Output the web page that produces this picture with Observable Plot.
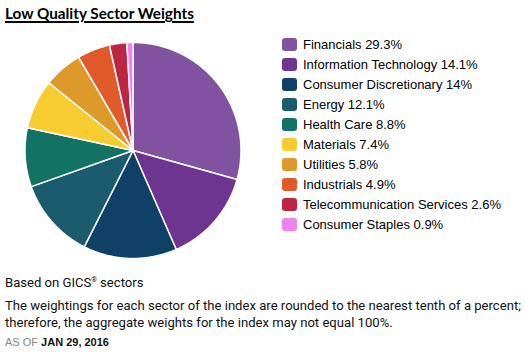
<!DOCTYPE html>
<html>
<head>
<meta charset="utf-8">
<script src="https://cdn.jsdelivr.net/npm/d3@7"></script>
<script src="https://cdn.jsdelivr.net/npm/@observablehq/plot@0.6"></script>
<style>
  html, body { margin: 0; padding: 0; background: #fff; }
  #wrap { position: relative; width: 525px; height: 355px; overflow: hidden; }
  #chart { position: absolute; left: 0; top: 0; }
  #title { position: absolute; left: 5px; top: 4px; font-family: Lato, sans-serif; font-weight: bold; font-size: 15.3px; text-decoration: underline; text-decoration-thickness: 2px; text-underline-offset: 2px; color: #000; white-space: nowrap; }
  #legend { position: absolute; left: 282px; top: 34px; font-family: "Liberation Sans", Arial, sans-serif; font-size: 13px; color: #000; }
  .row { height: 20px; display: flex; align-items: center; white-space: nowrap; }
  .sw { width: 15px; height: 13px; border-radius: 3px; margin-right: 6px; flex: none; }
  .foot { position: absolute; left: 5px; font-family: Roboto, sans-serif; font-size: 13.1px; color: #111; white-space: nowrap; }
</style>
</head>
<body>
<div id="wrap">
  <div id="chart"></div>
  <div id="title">Low Quality Sector Weights</div>
  <div id="legend"></div>
  <div class="foot" style="top:275px">Based on GICS<sup style="font-size:7px">®</sup> sectors</div>
  <div class="foot" style="top:297px; line-height:17px">The weightings for each sector of the index are rounded to the nearest tenth of a percent;<br>therefore, the aggregate weights for the index may not equal 100%.</div>
  <div class="foot" style="top:336px; font-family:'Liberation Sans',Arial,sans-serif; font-size:11px"><span style="color:#888">AS OF</span> <b>JAN 29, 2016</b></div>
</div>
<script>
const sectors = ["Financials", "Information Technology", "Consumer Discretionary", "Energy", "Health Care", "Materials", "Utilities", "Industrials", "Telecommunication Services", "Consumer Staples"];
const weights = [29.3, 14.1, 14, 12.1, 8.8, 7.4, 5.8, 4.9, 2.6, 0.9];
const colors = ["#8052A0", "#6E3590", "#0F4068", "#1A5C6E", "#127264", "#F7CC30", "#DD9A2A", "#E05A2A", "#BE2542", "#EE82EE"];

const R = 108;
const arcs = d3.pie().sort(null).value(d => d.w)(sectors.map((s, i) => ({s, w: weights[i]})));
const pts = [];
for (const a of arcs) {
  const n = Math.max(2, Math.ceil((a.endAngle - a.startAngle) / 0.01));
  pts.push({s: a.data.s, x: 0, y: 0});
  for (let k = 0; k <= n; k++) {
    const t = a.startAngle + (a.endAngle - a.startAngle) * k / n;
    pts.push({s: a.data.s, x: R * Math.sin(t), y: R * Math.cos(t)});
  }
  pts.push({s: a.data.s, x: 0, y: 0});
}

const plot = Plot.plot({
  width: 525, height: 355,
  margin: 0,
  x: {domain: [-132.5, 392.5], axis: null},
  y: {domain: [-205, 150], axis: null},
  color: {domain: sectors, range: colors},
  marks: [
    Plot.line(pts, {x: "x", y: "y", z: "s", fill: "s", stroke: "white", strokeWidth: 1.5, strokeLinejoin: "round", curve: "linear"})
  ]
});
document.getElementById("chart").appendChild(plot);

const leg = document.getElementById("legend");
sectors.forEach((s, i) => {
  const row = document.createElement("div");
  row.className = "row";
  row.innerHTML = `<div class="sw" style="background:${colors[i]}"></div><span>${s} ${weights[i]}%</span>`;
  leg.appendChild(row);
});
</script>
</body>
</html>
